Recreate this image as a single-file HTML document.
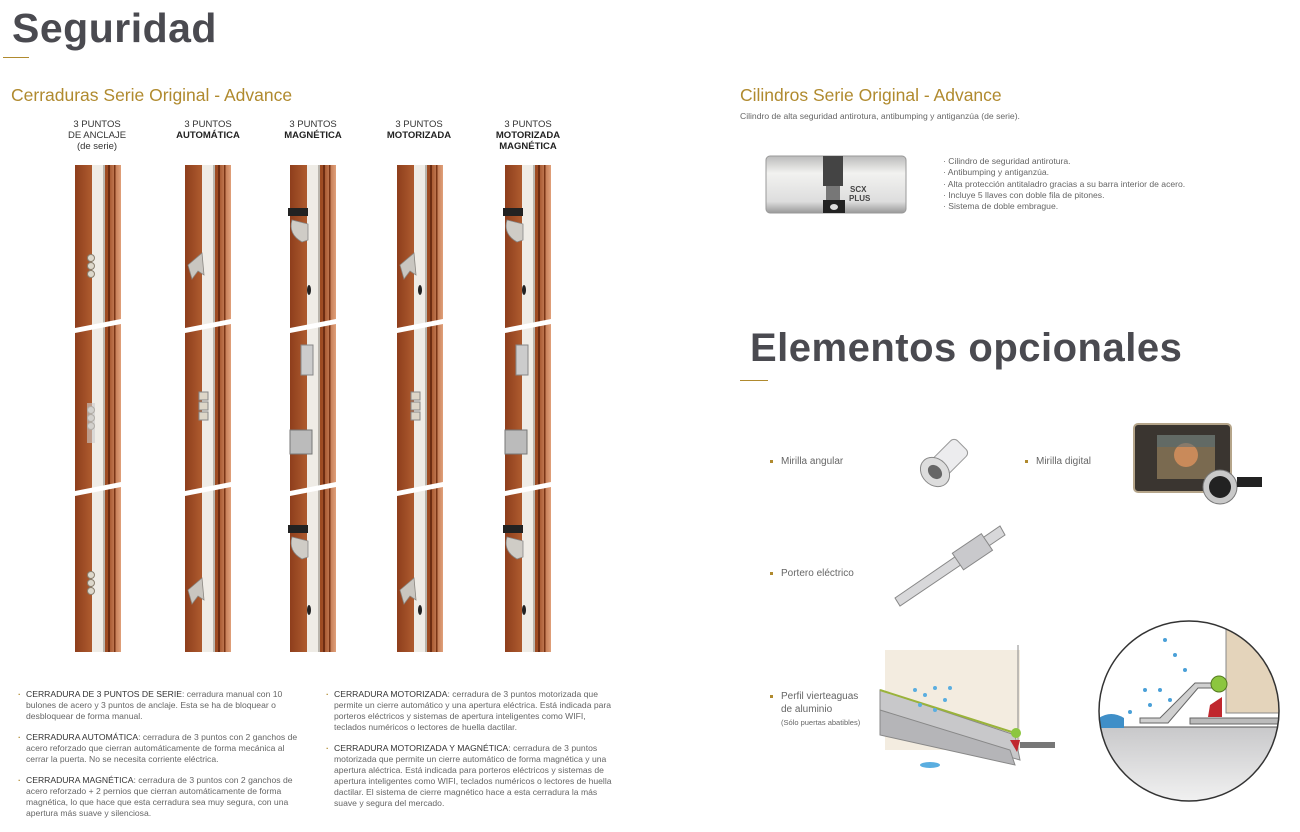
<!DOCTYPE html>
<html><head><meta charset="utf-8"><style>
body{margin:0;width:1300px;height:832px;background:#fff;position:relative;overflow:hidden;font-family:"Liberation Sans",sans-serif;color:#555}
.a{position:absolute}
.h1{font-size:40px;font-weight:bold;color:#4a4a50;letter-spacing:0.5px}
.gold{color:#b08a2e}
.gl{position:absolute;height:1px;background:#b08a2e}
.hd{position:absolute;font-size:9.5px;line-height:11px;text-align:center;color:#333;width:90px}
.hd b{color:#222}
.p{position:absolute;font-size:8.6px;line-height:11px;color:#666}
.p b{font-weight:normal;color:#333}
.p div{margin-bottom:10px;padding-left:8px;position:relative}
.p div:before{content:"·";position:absolute;left:0;color:#b08a2e;font-weight:bold}
.li{position:absolute;font-size:10px;color:#666}
.li:before{content:"";display:inline-block;width:3px;height:3px;background:#b08a2e;margin-right:8px;vertical-align:middle}
</style></head><body>
<div class="a h1" style="left:12px;top:5px;font-size:41px">Seguridad</div>
<div class="gl" style="left:3px;top:57px;width:26px"></div>
<div class="a gold" style="left:11px;top:85px;font-size:17.5px">Cerraduras Serie Original - Advance</div>
<div class="hd" style="left:52px;top:119px">3 PUNTOS<br>DE ANCLAJE<br>(de serie)</div>
<div class="hd" style="left:163px;top:119px">3 PUNTOS<br><b>AUTOMÁTICA</b></div>
<div class="hd" style="left:268px;top:119px">3 PUNTOS<br><b>MAGNÉTICA</b></div>
<div class="hd" style="left:374px;top:119px">3 PUNTOS<br><b>MOTORIZADA</b></div>
<div class="hd" style="left:483px;top:119px">3 PUNTOS<br><b>MOTORIZADA<br>MAGNÉTICA</b></div>

<svg class="a" style="left:0;top:0" width="700" height="680">
<defs>
<linearGradient id="w" x1="0" x2="1"><stop offset="0" stop-color="#8e3e1c"/><stop offset=".35" stop-color="#ad5a2e"/><stop offset=".7" stop-color="#9c4a22"/><stop offset="1" stop-color="#e0a07a"/></linearGradient>
<g id="s">
<rect x="0" y="0" width="46" height="487" fill="url(#w)"/>
<rect x="17" y="0" width="12" height="487" fill="#efece6"/>
<rect x="28" y="0" width="2" height="487" fill="#b9b5ad"/>
<rect x="33" y="0" width="2" height="487" fill="#6e2d12"/>
<rect x="39" y="0" width="1.5" height="487" fill="#7a3516"/>
<polygon points="0,163 46,154 46,159 0,168" fill="#fff"/>
<polygon points="0,326 46,317 46,322 0,331" fill="#fff"/>
</g>
<g id="hook"><polygon points="0,0 14,-12 16,10 10,6 4,14" fill="#c9c6c0" stroke="#8a8680" stroke-width=".8"/></g>
<g id="mag"><rect x="0" y="0" width="20" height="8" fill="#222"/><path d="M4 12 q-4 14 10 22 l6 -2 v-16z" fill="#cfccc6" stroke="#888" stroke-width=".8"/></g>
<g id="bol"><circle cx="0" cy="0" r="3.5" fill="#ddd8cc" stroke="#8a8070"/><circle cx="0" cy="8" r="3.5" fill="#ddd8cc" stroke="#8a8070"/><circle cx="0" cy="16" r="3.5" fill="#ddd8cc" stroke="#8a8070"/></g>
</defs>
<use href="#s" x="75" y="165"/><use href="#s" x="185" y="165"/><use href="#s" x="290" y="165"/><use href="#s" x="397" y="165"/><use href="#s" x="505" y="165"/>
<use href="#bol" x="91" y="258"/><use href="#bol" x="91" y="410"/><use href="#bol" x="91" y="575"/>
<rect x="87" y="403" width="8" height="40" fill="#ccc" opacity=".6"/>
<use href="#hook" x="188" y="265"/><use href="#hook" x="188" y="590"/>
<rect x="199" y="392" width="9" height="8" fill="#ddd6c8" stroke="#888"/><rect x="199" y="402" width="9" height="8" fill="#ddd6c8" stroke="#888"/><rect x="199" y="412" width="9" height="8" fill="#ddd6c8" stroke="#888"/>
<use href="#mag" x="288" y="208"/><use href="#mag" x="288" y="525"/>
<rect x="301" y="345" width="12" height="30" fill="#ccc" stroke="#888"/><rect x="290" y="430" width="22" height="24" fill="#bbb" stroke="#777"/>
<ellipse cx="309" cy="290" rx="2" ry="5" fill="#222"/><ellipse cx="309" cy="610" rx="2" ry="5" fill="#222"/>
<use href="#hook" x="400" y="265"/><use href="#hook" x="400" y="590"/>
<rect x="411" y="392" width="9" height="8" fill="#ddd6c8" stroke="#888"/><rect x="411" y="402" width="9" height="8" fill="#ddd6c8" stroke="#888"/><rect x="411" y="412" width="9" height="8" fill="#ddd6c8" stroke="#888"/>
<ellipse cx="420" cy="290" rx="2" ry="5" fill="#222"/><ellipse cx="420" cy="610" rx="2" ry="5" fill="#222"/>
<use href="#mag" x="503" y="208"/><use href="#mag" x="503" y="525"/>
<rect x="516" y="345" width="12" height="30" fill="#ccc" stroke="#888"/><rect x="505" y="430" width="22" height="24" fill="#bbb" stroke="#777"/>
<ellipse cx="524" cy="290" rx="2" ry="5" fill="#222"/><ellipse cx="524" cy="610" rx="2" ry="5" fill="#222"/>
</svg>

<div class="p" style="left:18px;top:689px;width:290px">
<div><b>CERRADURA DE 3 PUNTOS DE SERIE</b>: cerradura manual con 10 bulones de acero y 3 puntos de anclaje. Esta se ha de bloquear o desbloquear de forma manual.</div>
<div><b>CERRADURA AUTOMÁTICA</b>: cerradura de 3 puntos con 2 ganchos de acero reforzado que cierran automáticamente de forma mecánica al cerrar la puerta. No se necesita corriente eléctrica.</div>
<div><b>CERRADURA MAGNÉTICA</b>: cerradura de 3 puntos con 2 ganchos de acero reforzado + 2 pernios que cierran automáticamente de forma magnética, lo que hace que esta cerradura sea muy segura, con una apertura más suave y silenciosa.</div>
</div>
<div class="p" style="left:326px;top:689px;width:292px">
<div><b>CERRADURA MOTORIZADA</b>: cerradura de 3 puntos motorizada que permite un cierre automático y una apertura eléctrica. Está indicada para porteros eléctricos y sistemas de apertura inteligentes como WIFI, teclados numéricos o lectores de huella dactilar.</div>
<div><b>CERRADURA MOTORIZADA Y MAGNÉTICA</b>: cerradura de 3 puntos motorizada que permite un cierre automático de forma magnética y una apertura aléctrica. Está indicada para porteros eléctricos y sistemas de apertura inteligentes como WIFI, teclados numéricos o lectores de huella dactilar. El sistema de cierre magnético hace a esta cerradura la más suave y segura del mercado.</div>
</div>

<div class="a gold" style="left:740px;top:85px;font-size:17.5px">Cilindros Serie Original - Advance</div>
<div class="a" style="left:740px;top:111px;font-size:8.6px;color:#666">Cilindro de alta seguridad antirotura, antibumping y antiganzúa (de serie).</div>
<svg class="a" style="left:760px;top:150px" width="150" height="70">
<defs><linearGradient id="c" x1="0" y1="0" x2="0" y2="1"><stop offset="0" stop-color="#bbb"/><stop offset=".3" stop-color="#f2f2f0"/><stop offset=".8" stop-color="#ddd"/><stop offset="1" stop-color="#999"/></linearGradient></defs>
<rect x="6" y="6" width="140" height="57" rx="4" fill="url(#c)" stroke="#999"/>
<rect x="63" y="6" width="20" height="30" fill="#444"/><rect x="66" y="36" width="14" height="16" fill="#777"/>
<rect x="63" y="50" width="22" height="13" fill="#222"/><ellipse cx="74" cy="57" rx="4" ry="3" fill="#ddd"/>
<text x="90" y="42" font-size="8" font-weight="bold" fill="#444" font-family="Liberation Sans">SCX</text>
<text x="89" y="51" font-size="8" font-weight="bold" fill="#444" font-family="Liberation Sans">PLUS</text>
</svg>
<div class="a" style="left:943px;top:156px;font-size:8.6px;line-height:11.3px;color:#666">
· Cilindro de seguridad antirotura.<br>· Antibumping y antiganzúa.<br>· Alta protección antitaladro gracias a su barra interior de acero.<br>· Incluye 5 llaves con doble fila de pitones.<br>· Sistema de doble embrague.</div>

<div class="a h1" style="left:750px;top:326px">Elementos opcionales</div>
<div class="gl" style="left:740px;top:380px;width:28px"></div>

<div class="li" style="left:770px;top:456px">Mirilla angular</div>
<div class="li" style="left:1025px;top:456px">Mirilla digital</div>
<div class="li" style="left:770px;top:568px">Portero eléctrico</div>
<div class="li" style="left:770px;top:690px;line-height:13px">Perfil vierteaguas<br><span style="padding-left:11px">de aluminio</span><br><span style="padding-left:11px;font-size:7.5px">(Sólo puertas abatibles)</span></div>

<svg class="a" style="left:0;top:0" width="1300" height="832">
<g transform="translate(935,472) rotate(-45)"><rect x="0" y="-11" width="38" height="22" rx="5" fill="#ececee" stroke="#999"/><ellipse cx="0" cy="0" rx="13" ry="16" fill="#ddd" stroke="#888"/><ellipse cx="0" cy="0" rx="6" ry="8" fill="#666"/></g>
<rect x="1134" y="424" width="97" height="68" rx="4" fill="#3a3530" stroke="#b5a58a" stroke-width="2"/>
<rect x="1157" y="435" width="58" height="44" fill="#7a6a50"/><circle cx="1186" cy="455" r="12" fill="#c98a5a"/><rect x="1157" y="435" width="58" height="12" fill="#4a6a7a" opacity=".5"/>
<circle cx="1220" cy="487" r="17" fill="#c9c9c9" stroke="#777"/><circle cx="1220" cy="487" r="11" fill="#222"/><rect x="1237" y="477" width="25" height="10" fill="#222"/>
<polygon points="895,598 900,606 1005,535 1000,526" fill="#d8d8da" stroke="#888"/><rect x="955" y="542" width="35" height="20" fill="#c9c9cc" stroke="#888" transform="rotate(-34 972 552)"/>
<rect x="885" y="650" width="135" height="100" fill="#f3ece0"/><line x1="1018" y1="645" x2="1018" y2="750" stroke="#888"/>
<polygon points="880,690 1015,735 1020,760 880,720" fill="#c8c8ca" stroke="#888"/>
<polygon points="880,710 1010,750 1015,765 880,735" fill="#b5b5b8" stroke="#888"/>
<line x1="880" y1="690" x2="1015" y2="733" stroke="#9ab33a" stroke-width="2"/>
<circle cx="1016" cy="733" r="5" fill="#8cc63f"/><path d="M1010 740 l10 0 l-3 12 z" fill="#c0272d"/>
<rect x="1020" y="742" width="35" height="6" fill="#777"/>
<g fill="#5aaee0"><circle cx="915" cy="690" r="2"/><circle cx="925" cy="695" r="2"/><circle cx="935" cy="688" r="2"/><circle cx="945" cy="700" r="2"/><circle cx="920" cy="705" r="2"/><circle cx="935" cy="710" r="2"/><circle cx="950" cy="688" r="2"/><ellipse cx="930" cy="765" rx="10" ry="3"/></g>
<defs><clipPath id="cc"><circle cx="1189" cy="711" r="90"/></clipPath><linearGradient id="gr" x1="0" y1="0" x2="0" y2="1"><stop offset="0" stop-color="#c8c8ca"/><stop offset="1" stop-color="#f4f4f4"/></linearGradient></defs>
<g clip-path="url(#cc)">
<rect x="1099" y="621" width="180" height="180" fill="#fff"/>
<rect x="1099" y="727" width="180" height="80" fill="url(#gr)"/>
<line x1="1099" y1="727" x2="1280" y2="727" stroke="#555"/>
<rect x="1226" y="621" width="60" height="92" fill="#e4d4bb" stroke="#888"/>
<path d="M1140 718 l20 0 l35 -35 l28 0 l0 5 l-25 0 l-30 35 l-28 0 z" fill="#d0d0d0" stroke="#666"/>
<rect x="1190" y="718" width="90" height="6" fill="#bbb" stroke="#666"/>
<circle cx="1219" cy="684" r="8" fill="#8cc63f" stroke="#557a20"/>
<path d="M1210 705 l12 -8 l0 20 l-14 0 z" fill="#c0272d"/>
<path d="M1099 718 q12 -8 25 0 l0 10 l-25 0z" fill="#3f8fc8"/>
<g fill="#4aa0d8"><circle cx="1165" cy="640" r="2"/><circle cx="1175" cy="655" r="2"/><circle cx="1160" cy="690" r="2"/><circle cx="1150" cy="705" r="2"/><circle cx="1130" cy="712" r="2"/><circle cx="1170" cy="700" r="2"/><circle cx="1185" cy="670" r="2"/><circle cx="1145" cy="690" r="2"/></g>
</g>
<circle cx="1189" cy="711" r="90" fill="none" stroke="#333" stroke-width="1.5"/>
</svg>
</body></html>
